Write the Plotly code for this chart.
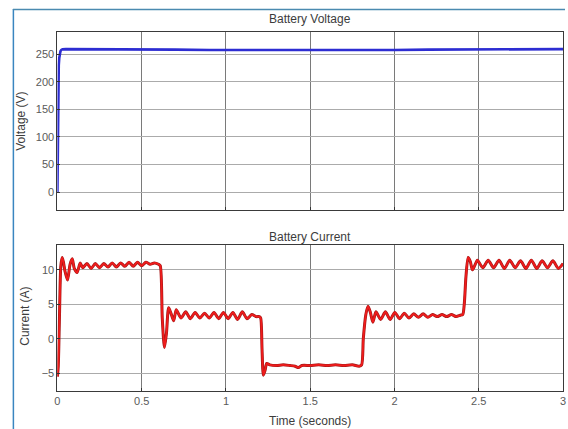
import plotly.graph_objects as go

# Battery voltage (V) versus time (s)
volt_t = [0.0, 0.002, 0.004, 0.006, 0.008, 0.011, 0.014, 0.018, 0.023, 0.03, 0.05, 0.1,
          0.3, 0.5, 0.6, 0.7, 0.9, 1.0, 1.2, 1.4, 1.6, 1.8, 2.0, 2.2, 2.4, 2.6, 2.8, 3.0]
volt_v = [0.0, 110.0, 175.0, 210.0, 230.0, 243.0, 250.0, 255.0, 257.5, 258.5, 259.0, 259.0,
          259.0, 258.8, 258.5, 258.0, 257.5, 257.5, 257.0, 256.5, 256.5, 257.0, 257.5, 258.0,
          258.5, 258.8, 259.0, 259.0]

# Battery current (A) versus time (s)
curr_t = [0.0, 0.005, 0.012, 0.02, 0.028, 0.035, 0.045, 0.06, 0.075, 0.088, 0.1, 0.117, 0.135,
          0.15, 0.175, 0.2, 0.225, 0.25, 0.275, 0.3, 0.325, 0.35, 0.375, 0.4, 0.425,
          0.45, 0.475, 0.5, 0.525, 0.55, 0.575, 0.6,
          0.61, 0.622, 0.635, 0.647, 0.66, 0.675, 0.69, 0.705,
          0.733, 0.761, 0.789, 0.817, 0.845, 0.873, 0.901, 0.929, 0.957, 0.985, 1.013,
          1.041, 1.069, 1.097, 1.125, 1.153, 1.18, 1.198,
          1.206, 1.214, 1.222, 1.232, 1.242, 1.26,
          1.3, 1.34, 1.38, 1.41, 1.43, 1.45, 1.5, 1.55, 1.6, 1.65, 1.7, 1.75, 1.79, 1.805,
          1.815, 1.83, 1.843, 1.857, 1.872, 1.89,
          1.918, 1.946, 1.974, 2.002, 2.03, 2.058, 2.086, 2.114, 2.142, 2.17, 2.198, 2.226,
          2.254, 2.282, 2.31, 2.338, 2.366, 2.39, 2.405,
          2.414, 2.424, 2.437, 2.45, 2.462, 2.476, 2.492,
          2.524, 2.556, 2.588, 2.62, 2.652, 2.684, 2.716, 2.748, 2.78, 2.812, 2.844,
          2.876, 2.908, 2.94, 2.972, 3.0]
curr_i = [-5.5, -4.0, 3.0, 10.5, 11.8, 11.2, 9.8, 8.5, 10.8, 11.6, 10.2, 9.6, 11.0,
          10.3, 10.9, 10.2, 10.9, 10.3, 10.9, 10.4, 11.0, 10.4, 11.0, 10.5, 11.1,
          10.5, 11.1, 10.6, 11.1, 10.8, 11.0, 10.8,
          10.6, 3.0, -1.3, 0.8, 4.5, 3.6, 2.6, 4.2,
          3.0, 3.9, 2.9, 3.8, 3.0, 3.7, 3.0, 3.8, 2.9, 3.8, 2.9,
          3.8, 2.8, 3.9, 2.9, 3.5, 3.2, 3.2,
          3.0, -1.5, -5.3, -4.6, -3.6, -3.8,
          -3.9, -3.8, -3.9, -4.0, -4.2, -3.9, -3.9, -3.8, -3.9, -3.8, -3.9, -3.8, -4.0, -3.8,
          0.0, 3.5, 4.7, 3.8, 2.4, 3.9,
          2.8, 3.9, 2.8, 3.8, 2.9, 3.7, 3.0, 3.6, 3.1, 3.6, 3.1, 3.5,
          3.2, 3.5, 3.2, 3.5, 3.2, 3.4, 3.5,
          5.0, 9.0, 11.8, 11.2, 10.0, 10.6, 11.4,
          10.3, 11.4, 10.3, 11.4, 10.2, 11.4, 10.3, 11.3, 10.2, 11.4, 10.2,
          11.3, 10.3, 11.3, 10.2, 10.9]

volt_ticks = [0, 50, 100, 150, 200, 250]
curr_ticks = [-5, 0, 5, 10]
time_ticks = [0, 0.5, 1, 1.5, 2, 2.5, 3]
time_labels = ["0", "0.5", "1", "1.5", "2", "2.5", "3"]

W, H = 568, 429
def px(x):
    return x / W
def py(y):
    return 1 - y / H

tick_font = dict(family="Liberation Sans, Arial, sans-serif", size=11, color="#5a5a5a")
text_font = dict(family="Liberation Sans, Arial, sans-serif", size=12, color="#3c3c3c")

fig = go.Figure()
fig.add_trace(go.Scatter(x=volt_t, y=volt_v, mode="lines", xaxis="x", yaxis="y",
                         line=dict(color="#2d2dd2", width=2.6), showlegend=False))
fig.add_trace(go.Scatter(x=curr_t, y=curr_i, mode="lines", xaxis="x2", yaxis="y2",
                         line=dict(color="#a31818", width=3.0, shape="spline", smoothing=0.7),
                         showlegend=False))
fig.add_trace(go.Scatter(x=curr_t, y=curr_i, mode="lines", xaxis="x2", yaxis="y2",
                         line=dict(color="#f01c1c", width=1.8, shape="spline", smoothing=0.7),
                         showlegend=False))

axis_common = dict(showline=True, mirror=True, linecolor="#3a3a3a", linewidth=1,
                   ticks="inside", ticklen=3, tickcolor="#333", zeroline=False,
                   tickfont=tick_font, ticklabeloverflow="allow")
fig.update_layout(
    width=W, height=H, margin=dict(l=0, r=0, t=0, b=0),
    paper_bgcolor="white", plot_bgcolor="white",
    xaxis=dict(domain=[px(55), px(566)], range=[0, 3], tickvals=time_ticks,
               showticklabels=False, gridcolor="#7a7a7a", anchor="y", **axis_common),
    yaxis=dict(domain=[py(210), py(32)], range=[-32.6, 290], tickvals=volt_ticks,
               gridcolor="#ababab", anchor="x", **axis_common),
    xaxis2=dict(domain=[px(55), px(566)], range=[0, 3], tickvals=time_ticks,
                ticktext=time_labels, gridcolor="#7a7a7a", anchor="y2", **axis_common),
    yaxis2=dict(domain=[py(391), py(245)], range=[-7.6, 13.6], tickvals=curr_ticks,
                gridcolor="#ababab", anchor="x2", **axis_common),
)

ann = [
    dict(text="Battery Voltage", x=px(310), y=py(19)),
    dict(text="Battery Current", x=px(310), y=py(237)),
    dict(text="Time (seconds)", x=px(310), y=py(421)),
    dict(text="Voltage (V)", x=px(18), y=py(121), textangle=-90),
    dict(text="Current (A)", x=px(22), y=py(316), textangle=-90),
]
for a in ann:
    fig.add_annotation(xref="paper", yref="paper", showarrow=False,
                       xanchor="center", yanchor="middle", font=text_font, **a)

# window frame edges
fig.add_shape(type="line", xref="paper", yref="paper", x0=px(10.5), x1=px(10.5),
              y0=py(9), y1=0, line=dict(color="#3a86c0", width=1.5))
fig.add_shape(type="line", xref="paper", yref="paper", x0=px(10), x1=1,
              y0=py(9.5), y1=py(9.5), line=dict(color="#4a8ab0", width=1.5))

fig.write_html("out.html")
